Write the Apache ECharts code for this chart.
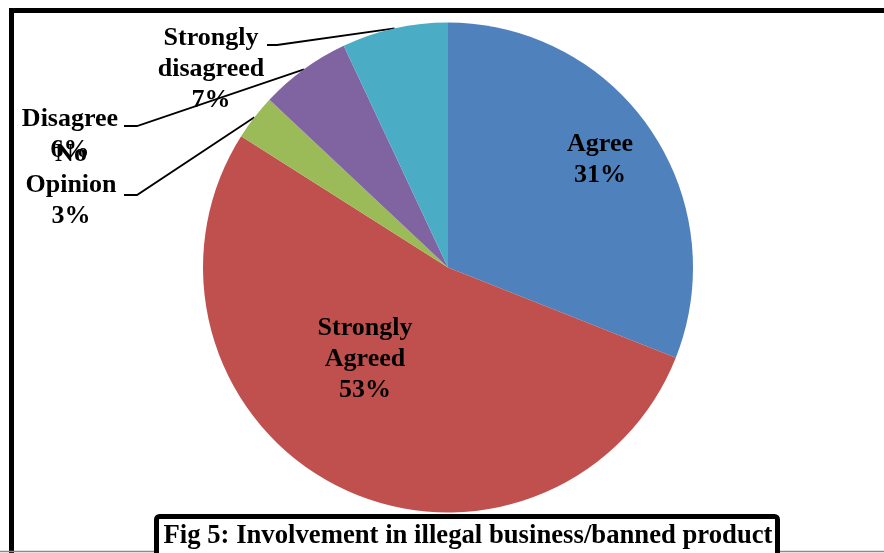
<!DOCTYPE html>
<html>
<head>
<meta charset="utf-8">
<script src="https://cdn.jsdelivr.net/npm/echarts@6/dist/echarts.min.js"></script>
<style>
  html, body { margin: 0; padding: 0; background: #fff; }
  #chart { width: 884px; height: 553px; }
</style>
</head>
<body>
<div id="chart"></div>
<script>
// Survey responses, percent of respondents
const categories = ['Agree', 'Strongly Agreed', 'No Opinion', 'Disagree', 'Strongly disagreed'];
const shares = [31, 53, 3, 6, 7];
const sliceColors = ['#4F81BD', '#C0504D', '#9BBB59', '#8064A2', '#4BACC6'];
const figureTitle = 'Fig 5: Involvement in illegal business/banned product';

// Which labels sit inside their slice
const insideLabel = [true, true, false, false, false];
// Label block centres and the short horizontal stub of each leader line
const labelCentres = [[600, 160], [365, 359], [71, 185], [70, 135], [211, 69]];
const leaderStubs = [null, null, [[137, 195], [124, 195]], [[137, 126], [124, 126]], [[277, 45], [267, 45]]];

const serif = '"Times New Roman", "Liberation Serif", serif';

const chart = echarts.init(document.getElementById('chart'), null, { renderer: 'canvas' });

const data = categories.map((name, i) => ({
  name: name,
  value: shares[i],
  itemStyle: { color: sliceColors[i] },
  label: { position: insideLabel[i] ? 'inside' : 'outside' },
  labelLine: { show: !insideLabel[i] }
}));

chart.setOption({
  animation: false,
  backgroundColor: '#ffffff',
  graphic: [
    {
      type: 'rect', z: 0, silent: true,
      shape: { x: 11.5, y: 10.5, width: 1000, height: 700 },
      style: { fill: 'none', stroke: '#000', lineWidth: 5 }
    },
    {
      type: 'line', z: 1, silent: true,
      shape: { x1: 0, y1: 551.5, x2: 884, y2: 551.5 },
      style: { stroke: '#8a8a8a', lineWidth: 1.5 }
    },
    {
      type: 'rect', z: 20, silent: true,
      shape: { x: 156.5, y: 516.5, width: 621, height: 80, r: 3 },
      style: { fill: '#fff', stroke: '#000', lineWidth: 5 }
    },
    {
      type: 'text', z: 21, silent: true,
      x: 468, y: 536,
      style: {
        text: figureTitle,
        font: 'bold 26.7px ' + serif,
        fill: '#000',
        align: 'center',
        verticalAlign: 'middle'
      }
    }
  ],
  series: [{
    type: 'pie',
    center: [448, 267.5],
    radius: 245,
    startAngle: 90,
    clockwise: true,
    avoidLabelOverlap: false,
    emphasis: { disabled: true },
    itemStyle: { borderWidth: 0 },
    label: {
      show: true,
      color: '#000',
      fontFamily: serif,
      fontWeight: 'bold',
      fontSize: 26,
      lineHeight: 31,
      align: 'center',
      formatter: p => p.name.replace(' ', '\n') + '\n' + p.value + '%'
    },
    labelLine: {
      lineStyle: { color: '#000', width: 1.8 }
    },
    labelLayout: params => {
      const i = params.dataIndex;
      const c = labelCentres[i];
      const out = { x: c[0], y: c[1], align: 'center', verticalAlign: 'middle' };
      if (leaderStubs[i] && params.labelLinePoints) {
        out.labelLinePoints = [params.labelLinePoints[0]].concat(leaderStubs[i]);
      }
      return out;
    },
    data: data
  }]
});
</script>
</body>
</html>
